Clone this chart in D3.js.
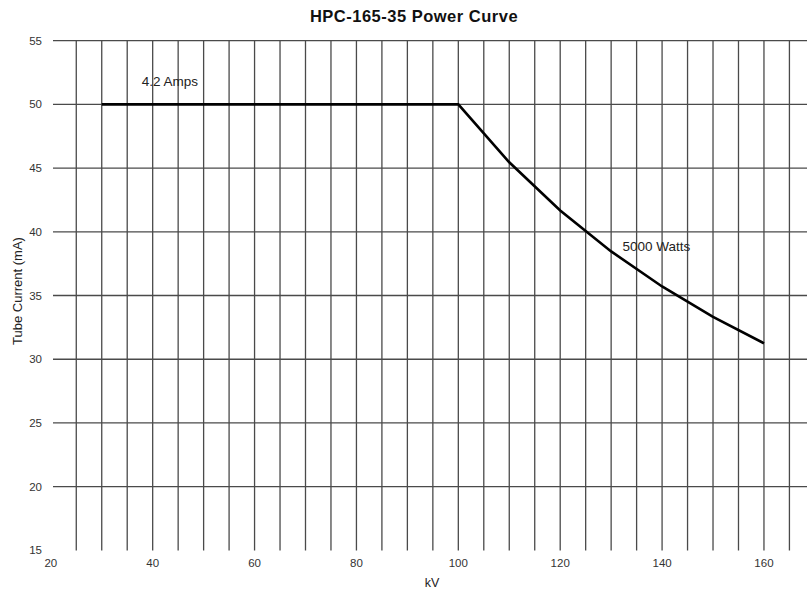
<!DOCTYPE html>
<html lang="en">
<head>
<meta charset="UTF-8">
<title>HPC-165-35 Power Curve</title>
<style>
    body { margin: 0; background: #fff; }
    svg text { font-family: "Liberation Sans", Arial, sans-serif; }
</style>
<script src="https://d3js.org/d3.v7.min.js"></script>
</head>
<body>
<script>
// values
const kv = [30, 40, 50, 60, 70, 80, 90, 100, 110, 120, 130, 140, 150, 160];
const tubeCurrent = [50, 50, 50, 50, 50, 50, 50, 50, 45.45, 41.67, 38.46, 35.71, 33.33, 31.25];
const xTicks = [20, 40, 60, 80, 100, 120, 140, 160];
const yTicks = [15, 20, 25, 30, 35, 40, 45, 50, 55];
const labels = [
    { text: "4.2 Amps", kv: 43.4, ma: 51.44 },
    { text: "5000 Watts", kv: 138.9, ma: 38.49 }
];

const width = 807, height = 592;

const x = d3.scaleLinear().domain([20, 170]).range([50.8, 814.9]);
const y = d3.scaleLinear().domain([15, 55]).range([550.4, 40.6]);

const svg = d3.select("body").append("svg")
    .attr("width", width)
    .attr("height", height);

// grid: vertical every 5 kV, horizontal every 5 mA
const vGrid = d3.range(25, 171, 5);
const hGrid = d3.range(20, 56, 5);

svg.append("g").selectAll("line").data(vGrid).join("line")
    .attr("x1", d => x(d)).attr("x2", d => x(d))
    .attr("y1", y(55)).attr("y2", y(15))
    .attr("stroke", "#4a4a4a").attr("stroke-width", 1.3);

svg.append("g").selectAll("line").data(hGrid).join("line")
    .attr("x1", 53).attr("x2", width)
    .attr("y1", d => y(d)).attr("y2", d => y(d))
    .attr("stroke", "#4a4a4a").attr("stroke-width", 1.3);

// tick labels
svg.append("g").selectAll("text").data(yTicks).join("text")
    .attr("x", 42).attr("y", d => y(d) + 4)
    .attr("text-anchor", "end")
    .attr("font-size", 11.5).attr("fill", "#333")
    .text(d => d);

svg.append("g").selectAll("text").data(xTicks).join("text")
    .attr("x", d => x(d)).attr("y", 566.5)
    .attr("text-anchor", "middle")
    .attr("font-size", 11.5).attr("fill", "#333")
    .text(d => d);

// the curve
const line = d3.line().x((d, i) => x(kv[i])).y(d => y(d));
svg.append("path")
    .datum(tubeCurrent)
    .attr("d", line)
    .attr("fill", "none")
    .attr("stroke", "#000")
    .attr("stroke-width", 2.6);

svg.append("g").selectAll("text").data(labels).join("text")
    .attr("x", d => x(d.kv)).attr("y", d => y(d.ma))
    .attr("text-anchor", "middle")
    .attr("font-size", 13.5).attr("fill", "#222")
    .text(d => d.text);

// titles
svg.append("text")
    .attr("x", 414).attr("y", 21.5)
    .attr("text-anchor", "middle")
    .attr("font-size", 16.5).attr("font-weight", "bold")
    .attr("letter-spacing", 0.5).attr("fill", "#111")
    .text("HPC-165-35 Power Curve");

svg.append("text")
    .attr("x", 432).attr("y", 587)
    .attr("text-anchor", "middle")
    .attr("font-size", 12.5).attr("fill", "#222")
    .text("kV");

svg.append("text")
    .attr("transform", "translate(22,291) rotate(-90)")
    .attr("text-anchor", "middle")
    .attr("font-size", 13).attr("fill", "#222")
    .text("Tube Current (mA)");
</script>
</body>
</html>
